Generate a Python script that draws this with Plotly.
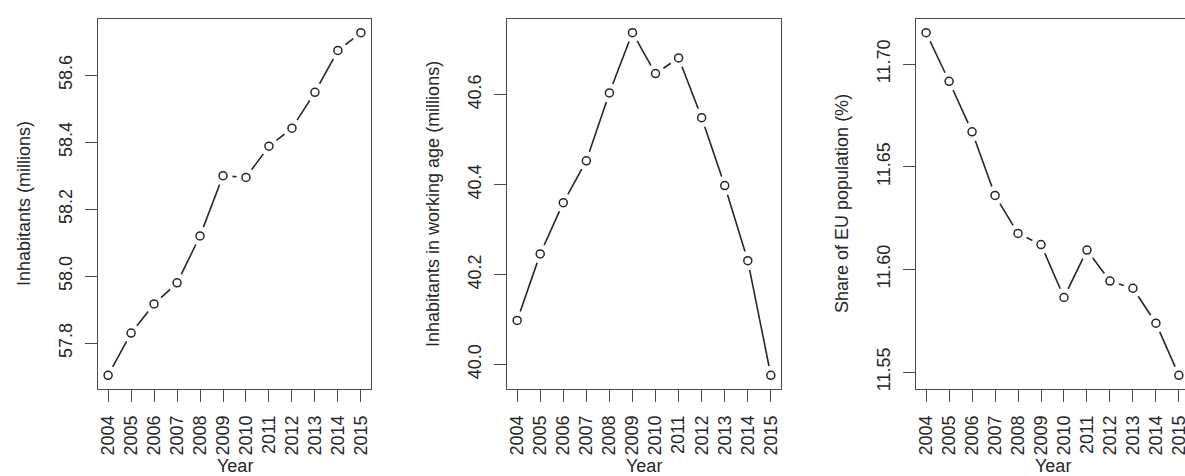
import math
import plotly.graph_objects as go

years = list(range(2004, 2016))

# Total inhabitants (millions)
inhabitants = [57.704, 57.830, 57.917, 57.980, 58.120, 58.300,
               58.295, 58.388, 58.442, 58.549, 58.674, 58.727]
# Inhabitants in working age (millions)
working_age = [40.098, 40.246, 40.360, 40.453, 40.604, 40.738,
               40.647, 40.682, 40.549, 40.398, 40.231, 39.976]
# Share of EU population (%)
eu_share = [11.7153, 11.6916, 11.6670, 11.6360, 11.6175, 11.6121,
            11.5863, 11.6094, 11.5943, 11.5908, 11.5738, 11.5484]

inhab_ticks = [57.8, 58.0, 58.2, 58.4, 58.6]
working_ticks = [40.0, 40.2, 40.4, 40.6]
share_ticks = [11.55, 11.60, 11.65, 11.70]

y_titles = ["Inhabitants (millions)",
            "Inhabitants in working age (millions)",
            "Share of EU population (%)"]

W, H = 1185, 476
FONT = "Liberation Sans, Arial, Helvetica, sans-serif"
INK = "#262626"
FRAME = "#4a4a4a"
GAP_PX = 9.5  # clearance between each point and the connecting segments

# plot boxes in pixels (left, right); shared top/bottom
boxes = [(98, 371), (507, 781), (916, 1189)]
box_top, box_bottom = 19, 389


def r_range(vals):
    lo, hi = min(vals), max(vals)
    pad = 0.04 * (hi - lo)
    return [lo - pad, hi + pad]


def gapped_segments(xs, ys, xscale, yscale, gap):
    """Segments between consecutive points, trimmed by `gap` pixels at both ends."""
    sx, sy = [], []
    for (xa, ya), (xb, yb) in zip(zip(xs, ys), zip(xs[1:], ys[1:])):
        dxp, dyp = (xb - xa) * xscale, (yb - ya) * yscale
        d = math.hypot(dxp, dyp)
        if d <= 2 * gap:
            continue
        t = gap / d
        sx += [xa + (xb - xa) * t, xb - (xb - xa) * t, None]
        sy += [ya + (yb - ya) * t, yb - (yb - ya) * t, None]
    return sx, sy


fig = go.Figure()

panels = [
    (inhabitants, inhab_ticks, ".1f"),
    (working_age, working_ticks, ".1f"),
    (eu_share, share_ticks, ".2f"),
]

xr_full = r_range(years)
for i, (vals, ticks, fmt) in enumerate(panels):
    n = i + 1
    xa = "x" if n == 1 else f"x{n}"
    ya = "y" if n == 1 else f"y{n}"
    left, right = boxes[i]
    yr = r_range(vals)

    x_px = (right - left) / (xr_full[1] - xr_full[0])
    y_px = (box_bottom - box_top) / (yr[1] - yr[0])
    seg_x, seg_y = gapped_segments(years, vals, x_px, y_px, GAP_PX)

    # connecting segments
    fig.add_trace(go.Scatter(x=seg_x, y=seg_y, mode="lines", xaxis=xa, yaxis=ya,
                             line=dict(color=INK, width=1.6),
                             hoverinfo="skip", showlegend=False,
                             connectgaps=False))
    # open circles
    fig.add_trace(go.Scatter(x=years, y=vals, mode="markers", xaxis=xa, yaxis=ya,
                             marker=dict(symbol="circle-open", size=8, color=INK,
                                         line=dict(width=1.5, color=INK)),
                             showlegend=False))

    x0 = left / W
    x1 = min(right, W) / W
    if right > W:
        span = xr_full[1] - xr_full[0]
        xr = [xr_full[0], xr_full[0] + span * (W - left) / (right - left)]
    else:
        xr = xr_full

    axis_common = dict(showgrid=False, zeroline=False, showline=True,
                       linecolor=FRAME, linewidth=1.4, ticks="outside",
                       ticklen=12, tickwidth=1.2, tickcolor=FRAME,
                       tickfont=dict(family=FONT, size=18, color=INK),
                       ticklabeloverflow="allow", automargin=False)

    fig.update_layout(**{
        ("xaxis" if n == 1 else f"xaxis{n}"): dict(
            axis_common, domain=[x0, x1], range=xr, tickvals=years,
            ticktext=[str(y) for y in years], tickangle=-90,
            mirror=True, anchor=ya, ticklabelstandoff=6),
        ("yaxis" if n == 1 else f"yaxis{n}"): dict(
            axis_common, domain=[(H - box_bottom) / H, (H - box_top) / H],
            range=yr, tickvals=ticks, tickformat=fmt,
            tickangle=-90, mirror=(right <= W), anchor=xa,
            ticklabelstandoff=6),
    })

    # axis titles
    fig.add_annotation(text=y_titles[i], xref="paper", yref="paper",
                       x=(left - 74) / W, y=(H - (box_top + box_bottom) / 2) / H,
                       xanchor="center", yanchor="middle", textangle=-90,
                       showarrow=False, font=dict(family=FONT, size=18, color=INK))
    fig.add_annotation(text="Year", xref="paper", yref="paper",
                       x=((left + right) / 2) / W, y=(H - 466) / H,
                       xanchor="center", yanchor="middle", showarrow=False,
                       font=dict(family=FONT, size=18, color=INK))

fig.update_layout(width=W, height=H, autosize=False,
                  margin=dict(l=0, r=0, t=0, b=0),
                  paper_bgcolor="white", plot_bgcolor="white")

fig.write_html("out.html")
